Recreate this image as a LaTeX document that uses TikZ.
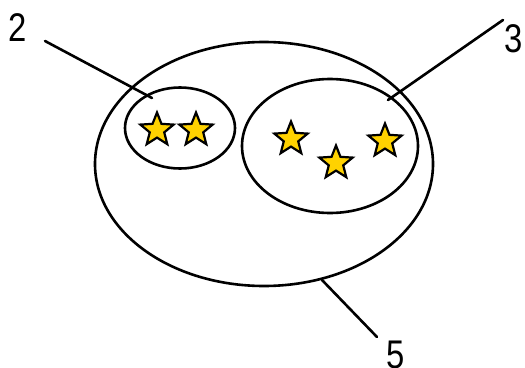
\documentclass[tikz,border=0pt]{standalone}
\usepackage{fontspec}
\setmainfont{Liberation Sans}
\usetikzlibrary{shapes.geometric}
\definecolor{stargold}{HTML}{FFD200}
\begin{document}
\begin{tikzpicture}[x=1pt,y=-1pt,
  ring/.style={draw=black,line width=2.6pt,ellipse,inner sep=0pt},
  astar/.style={star,star points=5,star point ratio=2.3,minimum size=35pt,inner sep=0pt,
    fill=stargold,draw=black,line width=2.2pt},
  lbl/.style={font=\fontsize{40}{40}\selectfont,inner sep=0pt,xscale=0.82},
  leader/.style={line width=2.6pt,line cap=round}]
\useasboundingbox (0,0) rectangle (525,367);
\node[ring,minimum width=338pt,minimum height=244pt] (big) at (264,164) {};
\node[ring,minimum width=110pt,minimum height=81pt] (left) at (180,128) {};
\node[ring,minimum width=176pt,minimum height=134pt] (right) at (330,146) {};
\node[astar] (s1) at (157,130) {};
\node[astar] (s2) at (196,130) {};
\node[astar] (s3) at (291,139) {};
\node[astar] (s4) at (336,163) {};
\node[astar] (s5) at (385,141) {};
\node[lbl] (l2) at (18,28) {2};
\node[lbl] (l3) at (514,39) {3};
\node[lbl] (l5) at (396,355) {5};
\coordinate (e2a) at (45,41);
\coordinate (e2b) at (152,98);
\coordinate (e3a) at (503,20);
\coordinate (e3b) at (388,100);
\coordinate (e5a) at (322,280);
\coordinate (e5b) at (377,337);
\draw[leader] (e2a) -- (e2b);
\draw[leader] (e3a) -- (e3b);
\draw[leader] (e5a) -- (e5b);
\end{tikzpicture}
\end{document}
